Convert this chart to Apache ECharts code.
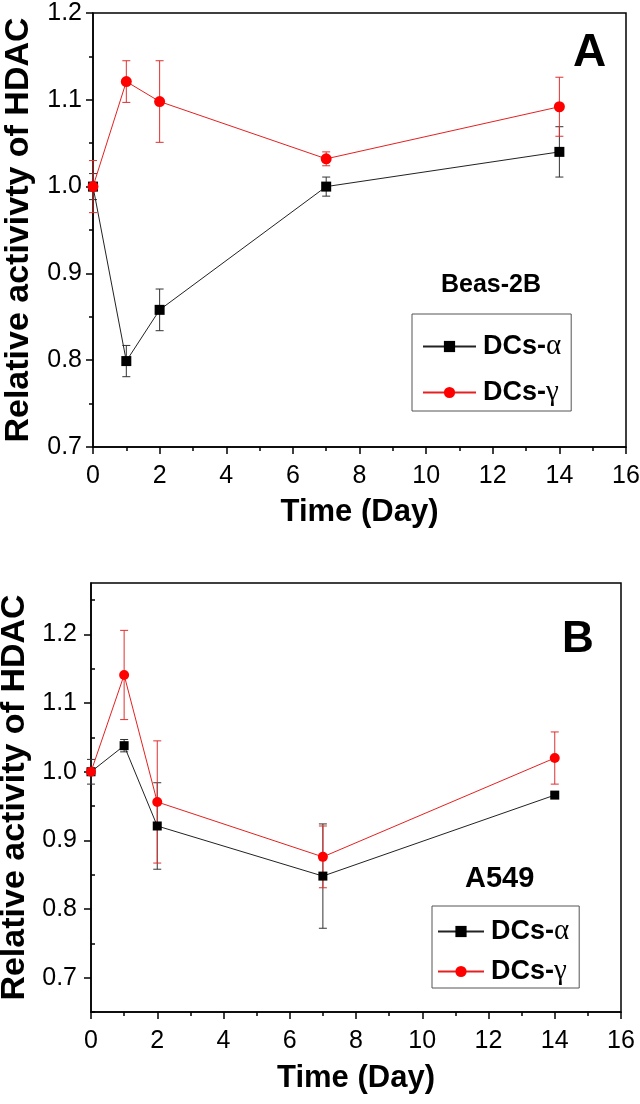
<!DOCTYPE html>
<html>
<head>
<meta charset="utf-8">
<script src="https://cdn.jsdelivr.net/npm/echarts@6/dist/echarts.min.js"></script>
<style>
html,body{margin:0;padding:0;background:#fff;}
#c{width:640px;height:1104px;}
</style>
</head>
<body>
<div id="c"></div>
<script>
// ---- data ----
const days = [0, 1, 2, 7, 14];
const seriesNames = ['DCs-α', 'DCs-γ'];

// Panel A: Beas-2B
const beasAlpha = [1.000, 0.799, 0.858, 1.000, 1.040];
const beasAlphaErr = [0.015, 0.018, 0.024, 0.011, 0.029];
const beasGamma = [1.000, 1.121, 1.098, 1.032, 1.092];
const beasGammaErr = [0.030, 0.024, 0.047, 0.008, 0.034];

// Panel B: A549
const a549Alpha = [1.000, 1.038, 0.921, 0.848, 0.966];
const a549AlphaErr = [0.018, 0.009, 0.063, 0.076, 0.003];
const a549Gamma = [1.000, 1.141, 0.956, 0.876, 1.020];
const a549GammaErr = [0.005, 0.065, 0.089, 0.045, 0.038];

// ticks
const xTicks = [0, 2, 4, 6, 8, 10, 12, 14, 16];
const yTicksA = [0.7, 0.8, 0.9, 1.0, 1.1, 1.2];
const yTicksB = [0.7, 0.8, 0.9, 1.0, 1.1, 1.2];
const yMinorB = [0.65, 0.75, 0.85, 0.95, 1.05, 1.15, 1.25];

// ---- chart ----
const FONT = 'Liberation Sans';
const BLACK = '#000000';
const RED = '#ff0000';

function pts(ys) { return days.map((d, i) => [d, ys[i]]); }
function errs(ys, e) { return days.map((d, i) => [d, ys[i] - e[i], ys[i] + e[i]]); }

function errSeries(name, data, color, xi, yi) {
  return {
    type: 'custom', name: name + ' err', xAxisIndex: xi, yAxisIndex: yi, z: 1,
    silent: true,
    data: data,
    encode: { x: 0, y: [1, 2] },
    renderItem: function (params, api) {
      const x = api.value(0);
      const lo = api.coord([x, api.value(1)]);
      const hi = api.coord([x, api.value(2)]);
      const cw = 4;
      const st = { stroke: color, lineWidth: 1 };
      return {
        type: 'group',
        children: [
          { type: 'line', shape: { x1: lo[0], y1: lo[1], x2: hi[0], y2: hi[1] }, style: st },
          { type: 'line', shape: { x1: lo[0] - cw, y1: lo[1], x2: lo[0] + cw, y2: lo[1] }, style: st },
          { type: 'line', shape: { x1: hi[0] - cw, y1: hi[1], x2: hi[0] + cw, y2: hi[1] }, style: st }
        ]
      };
    }
  };
}

function lineSeries(name, data, color, lineColor, symbol, size, xi, yi) {
  return {
    type: 'line', name: name, xAxisIndex: xi, yAxisIndex: yi, z: 3,
    data: data, symbol: symbol, symbolSize: size, showSymbol: true,
    lineStyle: { color: lineColor, width: 1 },
    itemStyle: { color: color, borderWidth: 0 },
    animation: false
  };
}

const xAxisCommon = {
  type: 'value', min: 0, max: 16, interval: 2,
  axisLine: { show: true, onZero: false, lineStyle: { color: BLACK, width: 1.5 } },
  axisTick: { show: true, inside: false, length: 7, lineStyle: { color: BLACK, width: 1.5 } },
  minorTick: { show: true, splitNumber: 2, length: 4, lineStyle: { color: BLACK, width: 1.5 } },
  splitLine: { show: false },
  axisLabel: { color: BLACK, fontFamily: FONT, fontSize: 25, margin: 17,
    customValues: xTicks, formatter: v => String(v) },
  name: 'Time (Day)', nameLocation: 'middle', nameGap: 50,
  nameTextStyle: { color: BLACK, fontFamily: FONT, fontWeight: 'bold', fontSize: 31 }
};

function legendFmt(name) {
  return '{b|DCs-}{g|' + name.slice(4) + '}';
}
function legendCfg(left, top, gap, itemW, pad) {
  return {
    show: true, orient: 'vertical', left: left, top: top,
    data: seriesNames, itemWidth: itemW, itemHeight: 14, itemGap: gap,
    borderColor: '#555', borderWidth: 1, padding: pad,
    selectedMode: false,
    formatter: legendFmt,
    textStyle: {
      color: BLACK, padding: [0, 0, 0, 2],
      rich: {
        b: { fontFamily: FONT, fontWeight: 'bold', fontSize: 27, color: BLACK },
        g: { fontFamily: 'Liberation Serif', fontSize: 29, color: BLACK }
      }
    }
  };
}

const option = {
  animation: false,
  backgroundColor: '#fff',
  grid: [
    { left: 93, top: 13, width: 533, height: 434, show: true, borderColor: BLACK, borderWidth: 1.5,
      containLabel: false, outerBoundsMode: 'none' },
    { left: 91, top: 583, width: 530, height: 429, show: true, borderColor: BLACK, borderWidth: 1.5,
      containLabel: false, outerBoundsMode: 'none' }
  ],
  xAxis: [
    Object.assign({}, xAxisCommon, { gridIndex: 0 }),
    Object.assign({}, xAxisCommon, { gridIndex: 1, nameGap: 51 })
  ],
  yAxis: [
    {
      type: 'value', gridIndex: 0, min: 0.7, max: 1.2, interval: 0.1,
      axisLine: { show: true, onZero: false, lineStyle: { color: BLACK, width: 1.5 } },
      axisTick: { show: true, length: 7, lineStyle: { color: BLACK, width: 1.5 } },
      minorTick: { show: true, splitNumber: 2, length: 4, lineStyle: { color: BLACK, width: 1.5 } },
      splitLine: { show: false },
      axisLabel: { color: BLACK, fontFamily: FONT, fontSize: 25, margin: 11,
        customValues: yTicksA, formatter: v => v.toFixed(1) },
      name: 'Relative activivty of HDAC', nameLocation: 'middle', nameGap: 57,
      nameTextStyle: { color: BLACK, fontFamily: FONT, fontWeight: 'bold', fontSize: 34 }
    },
    {
      type: 'value', gridIndex: 1, min: 0.65, max: 1.275,
      axisLine: { show: true, onZero: false, lineStyle: { color: BLACK, width: 1.5 } },
      axisTick: { show: true, length: 7, customValues: yTicksB, lineStyle: { color: BLACK, width: 1.5 } },
      splitLine: { show: false },
      axisLabel: { color: BLACK, fontFamily: FONT, fontSize: 25, margin: 14,
        customValues: yTicksB, formatter: v => v.toFixed(1) },
      name: 'Relative activity of HDAC', nameLocation: 'middle', nameGap: 55,
      nameTextStyle: { color: BLACK, fontFamily: FONT, fontWeight: 'bold', fontSize: 34 }
    },
    {
      type: 'value', gridIndex: 1, min: 0.65, max: 1.275,
      axisLine: { show: false },
      axisTick: { show: true, length: 4, customValues: yMinorB, lineStyle: { color: BLACK, width: 1.5 } },
      splitLine: { show: false },
      axisLabel: { show: false }
    }
  ],
  legend: [
    legendCfg(412, 314, 17, 53, [18, 10, 4, 10]),
    legendCfg(432, 906, 11, 46, [11, 10, 2, 5])
  ],
  graphic: [
    { type: 'text', left: 573, top: 30, style: { text: 'A', font: 'bold 46px "Liberation Sans"', fill: BLACK } },
    { type: 'text', left: 562, top: 618, style: { text: 'B', font: 'bold 44px "Liberation Sans"', fill: BLACK } },
    { type: 'text', left: 441, top: 273, style: { text: 'Beas-2B', font: 'bold 25px "Liberation Sans"', fill: BLACK } },
    { type: 'text', left: 465, top: 864, style: { text: 'A549', font: 'bold 29px "Liberation Sans"', fill: BLACK } }
  ],
  series: [
    errSeries('a1', errs(beasAlpha, beasAlphaErr), '#333', 0, 0),
    errSeries('g1', errs(beasGamma, beasGammaErr), '#e03030', 0, 0),
    lineSeries(seriesNames[0], pts(beasAlpha), BLACK, '#222', 'rect', 10, 0, 0),
    lineSeries(seriesNames[1], pts(beasGamma), RED, '#e52020', 'circle', 11, 0, 0),
    errSeries('a2', errs(a549Alpha, a549AlphaErr), '#333', 1, 1),
    errSeries('g2', errs(a549Gamma, a549GammaErr), '#e03030', 1, 1),
    lineSeries(seriesNames[0], pts(a549Alpha), BLACK, '#222', 'rect', 9, 1, 1),
    lineSeries(seriesNames[1], pts(a549Gamma), RED, '#e52020', 'circle', 10, 1, 1)
  ]
};

const chart = echarts.init(document.getElementById('c'), null, { renderer: 'canvas' });
chart.setOption(option);
</script>
</body>
</html>
